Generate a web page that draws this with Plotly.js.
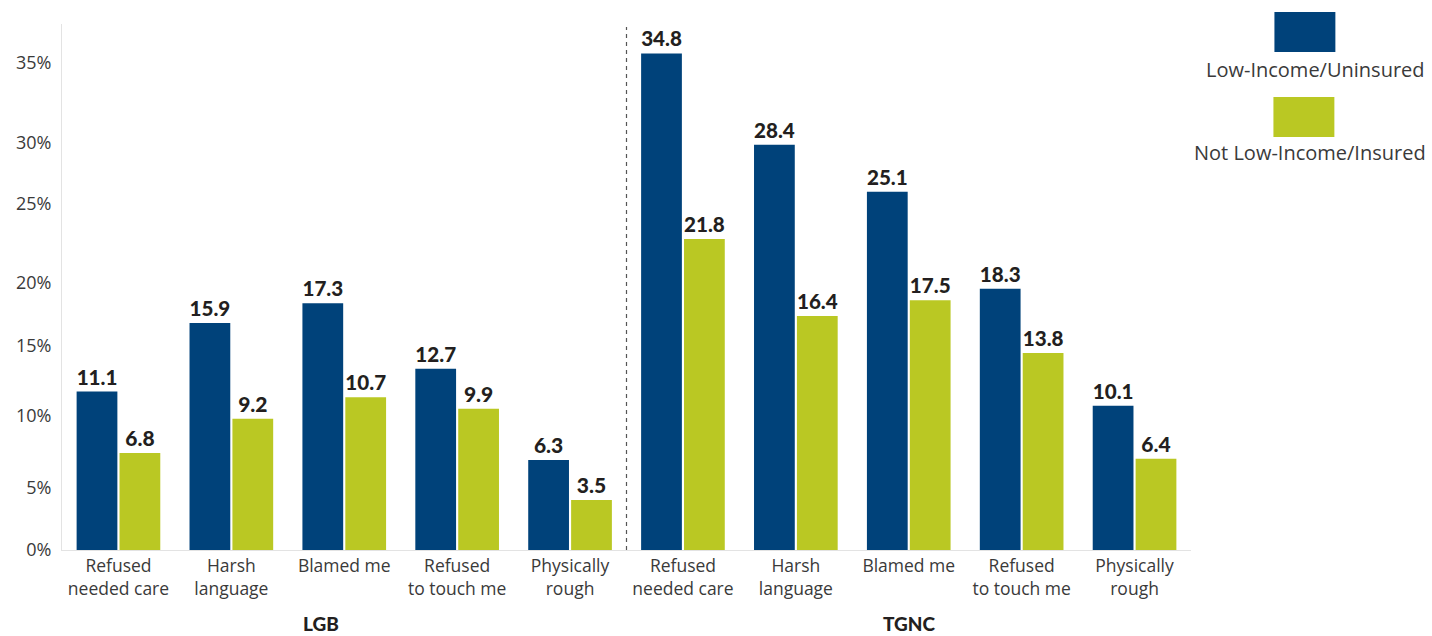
<!DOCTYPE html>
<html>
<head>
<meta charset="utf-8">
<script src="https://cdn.plot.ly/plotly-3.0.1.min.js"></script>
<style>
html,body{margin:0;padding:0;background:#fff;}
#chart{width:1432px;height:636px;}
</style>
</head>
<body>
<div id="chart"></div>
<script>
const categories = ["Refused<br>needed care", "Harsh<br>language", "Blamed me", "Refused<br>to touch me", "Physically<br>rough",
                    "Refused<br>needed care", "Harsh<br>language", "Blamed me", "Refused<br>to touch me", "Physically<br>rough"];
const groups = ["LGB", "TGNC"];
const lowIncomeUninsured = [11.1, 15.9, 17.3, 12.7, 6.3, 34.8, 28.4, 25.1, 18.3, 10.1];
const notLowIncomeInsured = [6.8, 9.2, 10.7, 9.9, 3.5, 21.8, 16.4, 17.5, 13.8, 6.4];
const seriesNames = ["Low-Income/Uninsured", "Not Low-Income/Insured"];
const yTickLabels = ["0%", "5%", "10%", "15%", "20%", "25%", "30%", "35%"];
const yTickPositions = [0, 4.34, 9.39, 14.3, 18.71, 24.25, 28.52, 34.13];

const xIdx = categories.map((_, i) => i);
const BLUE = "#00427a";
const GREEN = "#bac823";
const FONT = "'Open Sans', Lato, sans-serif";
const BFONT = "Lato, 'Open Sans', sans-serif";

const labelFont = {family: BFONT, size: 21, color: "#231f20", weight: 900};

const traces = [
  {type: "bar", name: seriesNames[0], x: xIdx, y: lowIncomeUninsured, marker: {color: BLUE},
   text: lowIncomeUninsured.map(v => v.toFixed(1)), textposition: "outside", textfont: labelFont,
   cliponaxis: false, hoverinfo: "x+y"},
  {type: "bar", name: seriesNames[1], x: xIdx, y: notLowIncomeInsured, marker: {color: GREEN},
   text: notLowIncomeInsured.map(v => v.toFixed(1)), textposition: "outside", textfont: labelFont,
   cliponaxis: false, hoverinfo: "x+y"}
];

const W = 1130, H = 526;
const px = x => (x - 61.5) / W;
const py = y => (550 - y) / H;

const layout = {
  width: 1432, height: 636,
  margin: {l: 61.5, r: 240.5, t: 24, b: 86},
  paper_bgcolor: "#fff", plot_bgcolor: "#fff",
  barmode: "group", bargap: 0.24, bargroupgap: 0.05,
  showlegend: false,
  font: {family: FONT, color: "#3a3a3a"},
  xaxis: {
    range: [-0.5, 9.5], tickvals: xIdx, ticktext: categories,
    showgrid: false, zeroline: false, showline: true, linecolor: "#e3e3e3", linewidth: 1,
    ticks: "", tickfont: {family: FONT, size: 17.5, color: "#3a3a3a"}, fixedrange: true
  },
  yaxis: {
    range: [0, 36.86], tickvals: yTickPositions, ticktext: yTickLabels,
    showgrid: false, zeroline: false, showline: true, linecolor: "#e3e3e3", linewidth: 1,
    ticks: "", ticklabelstandoff: 6, tickfont: {family: FONT, size: 18, color: "#3a3a3a"}, fixedrange: true
  },
  shapes: [
    {type: "line", xref: "x", yref: "paper", x0: 4.5, x1: 4.5, y0: 0, y1: py(27),
     line: {color: "#555", width: 1.2, dash: "4px,4px"}},
    {type: "rect", xref: "paper", yref: "paper", x0: px(1275), x1: px(1336), y0: py(52), y1: py(12),
     fillcolor: BLUE, line: {width: 0}},
    {type: "rect", xref: "paper", yref: "paper", x0: px(1274), x1: px(1335), y0: py(137), y1: py(97),
     fillcolor: GREEN, line: {width: 0}}
  ],
  annotations: [
    {text: groups[0], xref: "paper", yref: "paper", x: px(321), y: py(623), xanchor: "center", yanchor: "middle",
     borderpad: 0, showarrow: false, font: {family: BFONT, size: 19, color: "#231f20", weight: 900}},
    {text: groups[1], xref: "paper", yref: "paper", x: px(910), y: py(623), xanchor: "center", yanchor: "middle",
     borderpad: 0, showarrow: false, font: {family: BFONT, size: 19, color: "#231f20", weight: 900}},
    {text: seriesNames[0], xref: "paper", yref: "paper", x: px(1316), y: py(69), xanchor: "center", yanchor: "middle",
     showarrow: false, font: {family: FONT, size: 20, color: "#3a3a3a"}},
    {text: seriesNames[1], xref: "paper", yref: "paper", x: px(1311), y: py(152), xanchor: "center", yanchor: "middle",
     showarrow: false, font: {family: FONT, size: 20, color: "#3a3a3a"}}
  ]
};

Plotly.newPlot("chart", traces, layout, {displayModeBar: false, staticPlot: true});
</script>
</body>
</html>
